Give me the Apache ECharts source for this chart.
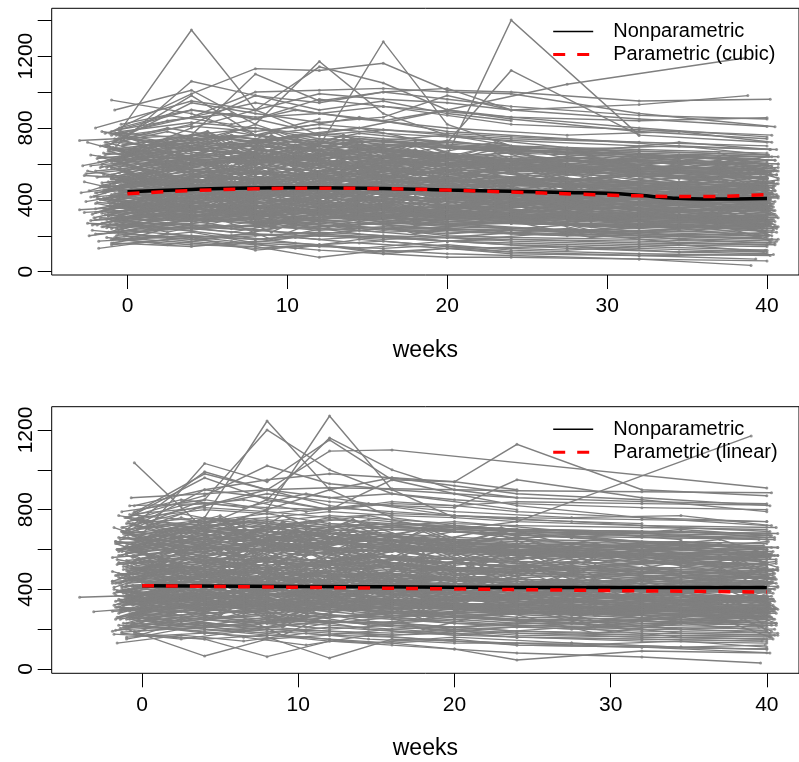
<!DOCTYPE html>
<html>
<head>
<meta charset="utf-8">
<title>Trajectories by week</title>
<script src="https://cdn.jsdelivr.net/npm/echarts@6/dist/echarts.min.js"></script>
<style>
  html, body { margin: 0; padding: 0; background: #fff; }
  #chart { width: 799px; height: 762px; }
</style>
</head>
<body>
<div id="chart"></div>
<script>
// Visit weeks for the middle columns of a trajectory row (three visit calendars).
const visitWeeks = [4, 8, 12, 16, 20, 24, 32];
const visitWeeksAlt = [2.5, 6.5, 10.5, 14.5, 20, 27.5, 34.5];
const visitWeeksLate = [5, 9, 13.5, 18, 23, 29, 37];

// Row layout: [baselineWeek, lastWeek, baseline, v1, v2, v3, v4, v5, v6, v7, last]
// Empty slots are visits that were not recorded.
const trajectoriesTop = [
  [-1.0, 40.0, 150, 190, 210, 180, 200, 170, 160, 140, 120],
  [-0.5, 40.2, 180, 220, 160, 140, 130, 150, 120, 100, 90],
  [-2.0, 39.6, 210, 240, 260, 230, 250, 240, 220, 200, 190],
  [-0.3, 40.5, 230, 200, 180, 210, 190, 170, 180, 160, 150],
  [-1.5, 40.0, 250, 300, 280, 260, 240, , 230, 210, 200],
  [-0.7, 39.0, 200, 180, 150, 120, 100, 80, 80, 70, 35],
  [0.0, 40.7, 260, 280, 320, 300, 290, 270, 280, 260, 250],
  [-1.2, 40.3, 220, 250, 230, 270, 240, 220, , 200, 180],
  [-2.5, 40.0, 270, 240, 210, 200, 180, 190, 170, 150, 140],
  [-0.8, 38.5, 190, 160, 130, 150, 170, 140, 110, , ],
  [-0.4, 40.0, 240, 290, 270, 300, 330, 310, 300, 280, 270],
  [-1.0, 40.6, 280, 260, 250, 240, 220, 230, 210, 190, 170],
  [-1.8, 39.8, 170, 200, 180, 200, 190, 170, 150, 130, 110],
  [-0.6, 40.0, 255, 230, 280, 250, 270, 260, 240, 230, 210],
  [0.0, 40.2, 210, 260, 230, 210, 240, 200, 190, 180, 160],
  [-1.3, 40.0, 245, 270, 300, 260, 230, 250, 240, 220, 230],
  [-0.9, 39.3, 160, 140, 170, 150, 110, 130, 100, 90, 70],
  [-0.2, 40.4, 275, 310, 290, 270, 300, 280, 270, 250, 240],
  [-2.2, 40.0, 230, 180, 200, 220, 200, 190, 180, 170, 150],
  [-1.1, 40.1, 265, 240, 260, 290, 260, 240, 230, 220, 200],
  [-1.0, 40.0, 180, 150, 140, 80, 120, 100, 90, 70, 60],
  [-0.6, 40.4, 210, 190, 120, 150, 100, 130, 110, 90, 95],
  [-1.0, 40.0, 300, 340, 320, 350, 330, 310, 300, 290, 280],
  [-0.5, 40.3, 320, 370, 350, 330, 360, 340, 320, 300, 290],
  [-1.5, 39.7, 340, 310, 290, 320, 300, 280, 270, 250, 240],
  [-0.3, 40.5, 360, 400, 430, 410, 390, 370, 380, 350, 340],
  [-2.0, 40.0, 290, 330, 370, 340, 320, 300, 310, 280, 270],
  [-0.8, 40.2, 380, 350, 330, 360, 340, 330, 310, 290, 270],
  [-1.2, 39.5, 310, 360, 400, 380, 350, 360, 340, 320, 300],
  [0.0, 40.6, 350, 330, 310, 290, 310, 300, 280, 260, 250],
  [-0.6, 40.0, 390, 440, 420, 450, 430, 400, 390, 370, 360],
  [-3.0, 40.0, 345, 380, 360, 340, 330, 350, 320, 300, 310],
  [-1.7, 40.4, 300, 280, 330, 310, 280, 260, 270, 260, 230],
  [-0.4, 39.0, 370, 410, 390, 360, 380, 370, 350, , ],
  [-1.0, 40.7, 330, 300, 350, 380, 360, 330, 320, 310, 300],
  [-0.9, 40.0, 395, 360, 380, 410, 390, 370, 360, 350, 330],
  [-2.3, 40.2, 285, 320, 300, 280, 300, 290, 270, 250, 260],
  [-0.2, 40.0, 355, 390, 420, 440, 410, 390, 380, 360, 350],
  [-1.4, 39.8, 315, 290, 270, 300, 320, 300, 290, 270, 250],
  [-0.7, 40.3, 375, 420, 460, 430, 400, 410, 390, 380, 370],
  [0.0, 40.0, 305, 350, 330, 360, 340, 320, 330, 310, 290],
  [-1.1, 40.5, 365, 340, 310, 330, 300, 320, 310, 290, 280],
  [-0.5, 40.0, 335, 380, 410, 390, 420, 400, 380, 370, 360],
  [-1.9, 39.4, 385, 350, 370, 340, 320, 310, 300, 280, 260],
  [-0.3, 40.1, 295, 330, 360, 330, 310, 340, 320, 300, 280],
  [-1.6, 40.0, 325, 370, 340, 320, 350, 330, 310, 300, 290],
  [-0.8, 40.6, 355, 320, 300, 340, 360, 340, 330, 320, 310],
  [-1.0, 40.0, 398, 440, 410, 380, 400, 390, 370, 350, 340],
  [-0.6, 40.2, 282, 310, 340, 320, 300, 290, 300, 280, 260],
  [-2.7, 40.0, 330, 360, 390, 370, 350, 360, 340, 330, 320],
  [-0.4, 40.4, 370, 330, 360, 390, 370, 350, 360, 340, 320],
  [-1.3, 39.9, 345, 400, 380, 360, 340, 330, 320, 310, 300],
  [-1.0, 40.0, 420, 460, 480, 455, 470, 440, 430, 410, 400],
  [-0.5, 40.3, 450, 500, 530, 510, 490, 470, 480, 460, 440],
  [-1.5, 39.8, 480, 440, 460, 490, 470, 450, 430, 420, 410],
  [-0.3, 40.5, 510, 560, 540, 580, 550, 530, 510, 490, 480],
  [-2.0, 40.0, 440, 480, 510, 490, 460, 470, 450, 430, 420],
  [0.0, 40.7, 530, 580, 560, 540, 570, 550, 520, 500, 490],
  [-0.8, 40.2, 460, 420, 440, 470, 450, 430, 420, 400, 380],
  [-1.2, 39.5, 500, 540, 580, 560, 530, 520, 500, 480, ],
  [-0.6, 40.0, 410, 450, 430, 460, 440, 420, 410, 390, 380],
  [-2.6, 40.0, 545, 600, 580, 560, 590, 570, 550, 530, 520],
  [-1.7, 40.4, 470, 510, 490, 470, 500, 480, 460, 450, 430],
  [-0.4, 39.0, 520, 480, 500, 530, 510, 490, 470, , ],
  [-1.0, 40.7, 430, 470, 500, 480, 450, 460, 440, 420, 410],
  [-0.9, 40.0, 490, 530, 510, 540, 520, 500, 490, 470, 460],
  [-2.3, 40.2, 415, 460, 440, 420, 450, 430, 410, 390, 380],
  [-0.2, 40.0, 540, 590, 620, 600, 580, 560, 570, 540, 520],
  [-1.4, 39.8, 455, 500, 470, 450, 480, 460, 440, 430, 410],
  [-0.7, 40.3, 505, 470, 490, 520, 500, 480, 460, 450, 440],
  [0.0, 40.0, 425, 480, 460, 500, 470, 450, 460, 440, 420],
  [-1.1, 40.5, 475, 520, 550, 520, 500, 510, 490, 470, 450],
  [-0.5, 40.0, 445, 410, 430, 460, 440, 420, 400, 390, 370],
  [-1.9, 39.4, 525, 570, 550, 530, 560, 540, 520, 500, 490],
  [-0.3, 40.1, 405, 440, 470, 450, 430, 440, 420, 400, 390],
  [-1.6, 40.0, 495, 540, 520, 500, 530, 510, 490, 480, 470],
  [-0.8, 40.6, 435, 480, 500, 470, 490, 460, 450, 430, 420],
  [-1.0, 40.0, 515, 470, 500, 530, 510, 490, 480, 460, 450],
  [-0.6, 40.2, 465, 510, 490, 470, 480, 460, 440, 420, 410],
  [-2.7, 40.0, 535, 500, 520, 550, 530, 510, 500, 480, 470],
  [-0.4, 40.4, 485, 530, 560, 540, 520, 500, 510, 490, 480],
  [-1.3, 39.9, 412, 450, 430, 410, 440, 420, 400, 380, 370],
  [-1.0, 40.0, 580, 630, 610, 650, 620, 600, 590, 570, 550],
  [-0.5, 40.3, 620, 680, 650, 700, 640, 610, 590, 560, 540],
  [-1.5, 39.8, 660, 620, 640, 680, 660, 630, 610, 590, 570],
  [-0.3, 40.5, 700, 760, 800, 740, 720, 700, 680, 650, 620],
  [-2.0, 40.0, 560, 610, 650, 620, 600, 620, 590, 570, 560],
  [0.0, 40.7, 740, 690, 720, 760, 730, 700, 680, 660, 640],
  [-0.8, 40.2, 600, 650, 630, 600, 620, 590, 570, 560, 540],
  [-1.2, 39.5, 680, 730, 760, 720, 700, 690, 670, 650, 630],
  [-0.6, 40.0, 570, 620, 600, 640, 610, 580, 560, 540, 520],
  [-3.0, 40.0, 730, 760, 720, 700, 730, 710, 690, 670, 650],
  [-1.7, 40.4, 640, 600, 620, 660, 640, 610, 600, 580, 560],
  [-0.4, 39.0, 780, 830, 800, 760, 790, 770, 750, 720, ],
  [-1.0, 40.7, 610, 660, 700, 670, 640, 650, 630, 610, 600],
  [-0.9, 40.0, 690, 640, 670, 700, 680, 660, 640, 620, 600],
  [-2.3, 40.2, 590, 640, 620, 590, 610, 600, 580, 560, 550],
  [-0.2, 40.0, 760, 810, 780, 820, 790, 760, 740, 720, 700],
  [-1.4, 39.8, 650, 700, 680, 650, 670, 640, 620, 610, 590],
  [-0.7, 40.3, 720, 680, 700, 740, 710, 690, 670, 650, 640],
  [0.0, 40.0, 555, 600, 640, 610, 590, 600, 580, 560, 540],
  [-1.1, 40.5, 670, 720, 700, 680, 710, 690, 660, 640, 620],
  [-0.5, 40.0, 750, 700, 730, 770, 740, 720, 700, 680, 660],
  [-1.9, 39.4, 630, 680, 660, 630, 650, 620, 600, 580, 570],
  [-0.3, 40.1, 705, 760, 740, 710, 730, 700, 690, 670, 650],
  [-1.6, 40.0, 585, 630, 610, 580, 600, 590, 570, 550, 530],
  [-0.8, 40.6, 775, 740, 760, 800, 770, 750, 730, 700, 680],
  [-0.6, 40.0, 790, 860, 940, 880, 840, 900, 860, 800, 750],
  [-1.4, 40.3, 770, 900, 850, 960, 920, 870, 820, 790, 760],
  [-0.2, , 740, 820, 980, 900, 950, 880, 840, , ],
  [-0.9, 40.0, 720, 940, 880, 830, 860, 980, 900, 850, 808],
  [-0.5, , 780, 1345, 900, 760, , , , , ],
  [-1.0, , 955, 880, 760, 720, 690, 650, 620, , ],
  [-0.8, , 900, 1010, 820, 700, 680, , , , ],
  [-0.7, 40.0, 700, 1060, 980, 940, 1000, 960, 920, 870, 850],
  [-1.0, 40.2, 780, 990, 1130, 1120, 1160, 1010, 1000, 950, 960],
  [-0.3, , 640, 760, 1100, 950, 1000, 1020, 900, , ],
  [0.0, , 560, 700, 820, 1170, 880, 760, 700, , ],
  [-1.0, 40.0, 620, 800, 900, 1140, 1050, 900, 850, 780, 740],
  [-0.5, 40.0, 480, 600, 640, 700, 1280, 820, 700, 650, 620],
  [-1.0, , 520, 580, 640, 620, 700, 650, 1400, 760, ],
  [-1.5, 40.0, 450, 520, 600, 650, 700, 720, 1120, 760, 720],
  [-1.0, 40.5, 760, 860, 1000, 1010, 1020, 1000, 990, 880, 807],
  [-2.0, 38.8, 800, 950, 900, 990, 960, 940, 900, 930, 980],
  [-0.4, 40.0, 820, 900, 860, 880, 920, 890, 860, 840, 857],
  [-1.2, , 700, 980, 760, 850, , , , , ]
];

// Top panel, subjects seen on the alternate calendar
const trajectoriesTopAlt = [
  [-1.2, 40.2, 310, 420, 350, 470, 380, 330, 410, 300, 360],
  [-0.4, 39.8, 560, 470, 620, 510, 580, 480, 520, 430, 470],
  [-2.1, 40.5, 420, 540, 460, 380, 500, 420, 360, 450, 390],
  [-0.9, 40.0, 680, 590, 720, 640, 560, 650, 580, 500, 560],
  [-1.6, 40.3, 250, 330, 280, 360, 290, 250, 310, 260, 220],
  [-0.3, 40.6, 470, 600, 520, 650, 560, 490, 540, 470, 430],
  [-1.0, 39.2, 380, 300, 410, 340, 280, 360, 300, 250, 290],
  [-2.8, 40.0, 590, 680, 560, 700, 620, 540, 600, 520, 480],
  [-0.6, 40.4, 330, 410, 500, 390, 450, 370, 330, 400, 340],
  [-1.4, 40.1, 720, 640, 760, 690, 610, 700, 620, 580, 640],
  [-0.8, 40.0, 280, 240, 310, 260, 330, 270, 220, 260, 200],
  [-0.2, 40.7, 510, 430, 560, 470, 520, 600, 490, 440, 510],
  [-1.9, 39.6, 440, 520, 410, 480, 550, 460, 400, 470, 420],
  [-0.5, 40.2, 640, 720, 650, 590, 680, 610, 560, 620, 550],
  [-1.1, 40.0, 360, 450, 390, 320, 400, 450, 370, 330, 380],
  [-2.4, 40.5, 200, 260, 220, 280, 230, 190, 240, 180, 160],
  [-0.7, 40.0, 530, 610, 700, 580, 640, 560, 500, 560, 520],
  [-1.5, 39.4, 410, 350, 440, 380, 460, 390, 340, 390, ],
  [-0.1, 40.3, 750, 690, 780, 720, 660, 730, 650, 610, 590],
  [-1.3, 40.0, 290, 380, 320, 400, 340, 300, 350, 290, 310],
  [-0.9, 40.6, 620, 540, 590, 660, 580, 520, 590, 530, 490],
  [-2.0, 40.0, 350, 420, 480, 410, 360, 430, 380, 340, 360],
  [-0.4, 39.9, 460, 390, 520, 450, 400, 470, 420, 370, 400],
  [-1.7, 40.2, 700, 780, 690, 750, 800, 700, 660, 720, 680],
  [-0.6, 40.0, 230, 300, 250, 210, 280, 230, 200, 240, 190],
  [-1.0, 40.4, 580, 500, 630, 560, 500, 570, 520, 460, 500],
  [-2.6, 40.1, 390, 470, 530, 450, 490, 410, 450, 380, 340],
  [-0.3, 40.0, 660, 740, 670, 610, 690, 630, 600, 650, 600],
  [-1.2, 39.7, 320, 270, 350, 300, 370, 320, 280, 310, 260],
  [-0.8, 40.5, 490, 570, 510, 600, 530, 470, 520, 480, 450],
  [-1.5, 40.0, 540, 460, 500, 440, 520, 560, 480, 430, 470],
  [-0.2, 40.2, 300, 360, 420, 350, 310, 370, 330, 290, 320],
  [-1.8, 40.7, 610, 690, 630, 700, 650, 590, 640, 600, 560],
  [-0.6, 40.0, 430, 360, 400, 470, 410, 360, 400, 350, 330],
  [-1.1, 39.5, 770, 700, 740, 680, 720, 760, 690, 640, ],
  [-2.2, 40.3, 260, 330, 290, 340, 300, 260, 300, 240, 270],
  [-0.5, 40.0, 550, 640, 580, 530, 600, 540, 500, 560, 510],
  [-1.4, 40.4, 400, 470, 430, 500, 440, 400, 460, 410, 380],
  [-0.9, 40.0, 690, 610, 660, 730, 650, 600, 640, 570, 590],
  [-0.1, 40.1, 340, 400, 360, 300, 360, 310, 350, 300, 280],
  [-1.6, 40.0, 480, 560, 620, 540, 590, 520, 480, 520, 470],
  [-0.7, 39.8, 600, 530, 570, 640, 580, 540, 590, 520, 500],
  [-2.9, 40.2, 440, 500, 460, 420, 470, 430, 390, 430, 400],
  [-0.4, 40.6, 270, 220, 290, 250, 230, 270, 230, 200, 220],
  [-1.3, 40.0, 720, 800, 740, 700, 770, 720, 680, 700, 650],
  [-0.8, 40.3, 370, 450, 410, 480, 420, 380, 420, 370, 350],
  [-1.0, 40.0, 520, 450, 480, 550, 490, 440, 480, 420, 440],
  [-2.3, 39.6, 650, 580, 620, 570, 640, 600, 550, 590, 540],
  [-0.5, 40.0, 310, 380, 330, 290, 350, 310, 280, 330, 300],
  [-1.7, 40.5, 580, 660, 720, 640, 680, 620, 580, 610, 570],
  [-0.2, 40.0, 180, 240, 200, 260, 210, 170, 220, 160, 150],
  [-1.1, 40.2, 460, 540, 480, 430, 500, 450, 420, 470, 430],
  [-0.6, 40.7, 740, 660, 700, 750, 690, 640, 680, 620, 600],
  [-1.9, 40.0, 410, 340, 380, 440, 390, 350, 390, 330, 360],
  [-0.3, 39.9, 630, 700, 660, 610, 680, 620, 590, 630, 580],
  [-1.4, 40.0, 350, 290, 340, 300, 270, 310, 270, 240, 260],
  [-0.9, 40.4, 500, 580, 540, 610, 550, 500, 550, 490, 470],
  [-2.5, 40.1, 560, 490, 530, 480, 550, 510, 470, 500, 460],
  [-0.7, 40.0, 240, 300, 340, 290, 260, 300, 260, 230, 250],
  [-1.2, 40.6, 670, 590, 640, 700, 630, 580, 620, 560, 540],
  [-0.4, 40.0, 420, 490, 450, 400, 460, 420, 380, 420, 390],
  [-1.6, 39.5, 780, 720, 760, 700, 740, 690, 660, 620, ],
  [-0.1, 40.2, 290, 350, 310, 370, 320, 280, 320, 270, 290],
  [-1.0, 40.0, 540, 620, 570, 520, 590, 540, 510, 550, 500],
  [-2.0, 40.4, 380, 310, 360, 410, 370, 320, 360, 310, 290],
  [-0.6, 40.0, 610, 680, 740, 660, 700, 640, 600, 640, 610],
  [-1.5, 40.1, 470, 400, 450, 510, 440, 400, 440, 390, 410],
  [-0.8, 40.7, 220, 270, 240, 300, 250, 210, 260, 200, 180],
  [-1.3, 40.0, 700, 630, 670, 620, 690, 650, 610, 650, 600],
  [-0.2, 39.8, 450, 530, 490, 440, 500, 460, 430, 470, 440],
  [-1.0, 40.0, 160, 210, 170, 130, 180, 140, 120, 150, 110],
  [-0.5, 40.3, 800, 870, 820, 900, 850, 800, 760, 780, 720],
  [-1.8, 40.0, 130, 180, 150, 190, 160, 130, 140, 110, 100],
  [-0.7, 40.2, 760, 840, 880, 800, 860, 780, 740, 700, 680],
  [-1.3, 39.9, 190, 150, 200, 160, 130, 170, 130, 110, 120],
  [-0.5, 38.6, 600, 660, 700, 760, 800, 900, 1043, , 1189]
];

// Top panel, subjects seen on the later calendar
const trajectoriesTopLate = [
  [-1.1, 40.1, 380, 560, 300, 520, 340, 600, 380, 480, 330],
  [-0.6, 40.4, 620, 400, 650, 420, 580, 360, 540, 400, 500],
  [-1.9, 39.7, 260, 420, 250, 450, 300, 400, 280, 360, 240],
  [-0.2, 40.0, 520, 340, 560, 380, 600, 420, 460, 340, 420],
  [-1.4, 40.6, 700, 520, 760, 560, 680, 500, 620, 520, 560],
  [-0.8, 40.2, 300, 480, 340, 560, 380, 460, 300, 420, 320],
  [-2.4, 40.0, 450, 650, 420, 600, 480, 660, 440, 520, 460],
  [-0.5, 39.5, 580, 380, 520, 340, 560, 400, 480, 360, ],
  [-1.2, 40.3, 220, 360, 250, 380, 260, 340, 220, 300, 200],
  [-0.3, 40.7, 660, 760, 560, 740, 600, 700, 540, 620, 520],
  [-1.7, 40.0, 400, 280, 460, 300, 420, 280, 380, 260, 300],
  [-0.9, 40.1, 540, 700, 480, 660, 500, 620, 460, 560, 430],
  [-2.0, 40.4, 330, 500, 360, 520, 340, 480, 320, 420, 360],
  [-0.4, 40.0, 760, 580, 700, 540, 720, 560, 640, 520, 600],
  [-1.3, 39.8, 480, 320, 520, 340, 500, 360, 420, 320, 380],
  [-0.7, 40.5, 280, 440, 300, 480, 320, 420, 280, 380, 260],
  [-1.6, 40.0, 600, 780, 560, 720, 580, 680, 520, 600, 500],
  [-0.1, 40.2, 360, 520, 400, 560, 380, 500, 360, 440, 340],
  [-2.7, 40.0, 500, 340, 540, 360, 520, 380, 460, 340, 400],
  [-0.6, 40.6, 680, 500, 720, 540, 660, 480, 600, 500, 540],
  [-1.0, 39.9, 240, 380, 220, 400, 260, 360, 230, 320, 210],
  [-1.5, 40.3, 440, 620, 460, 640, 440, 580, 420, 500, 440],
  [-0.3, 40.0, 560, 400, 600, 420, 580, 400, 520, 420, 460],
  [-2.2, 40.1, 320, 480, 300, 460, 340, 440, 300, 380, 280],
  [-0.8, 40.7, 740, 600, 780, 620, 720, 580, 660, 560, 580],
  [-1.1, 40.0, 420, 280, 480, 300, 440, 320, 400, 280, 340],
  [-0.5, 40.4, 500, 680, 520, 700, 540, 640, 480, 580, 460],
  [-1.8, 39.6, 640, 460, 680, 480, 620, 460, 560, 440, 500],
  [-0.2, 40.2, 200, 320, 180, 340, 210, 300, 190, 260, 170],
  [-1.3, 40.0, 580, 740, 600, 760, 580, 700, 560, 640, 540],
  [-0.9, 40.5, 350, 520, 330, 540, 360, 500, 330, 450, 320],
  [-2.5, 40.0, 720, 540, 740, 560, 700, 540, 640, 520, 580],
  [-0.4, 40.1, 460, 300, 500, 320, 480, 340, 420, 300, 360],
  [-1.6, 40.6, 270, 420, 260, 440, 280, 400, 250, 340, 240],
  [-0.7, 40.0, 620, 460, 660, 480, 640, 460, 580, 460, 520],
  [-1.2, 39.8, 390, 560, 380, 600, 400, 540, 370, 480, 360],
  [-0.1, 40.3, 680, 780, 620, 760, 640, 720, 600, 660, 580],
  [-2.1, 40.0, 300, 440, 280, 460, 310, 420, 290, 380, 270],
  [-0.6, 40.7, 520, 360, 560, 380, 540, 380, 480, 360, 420],
  [-1.4, 40.2, 440, 600, 420, 620, 450, 580, 420, 520, 400]
];

const trajectoriesBottom = [
  [-4.0, 40.0, 360, 380, 350, 400, 370, 360, 340, 330, 320],
  [-3.1, 39.5, 288, 330, 350, 320, 300, 310, 290, 280, 270],
  [-0.5, 40.0, 1035, 700, 660, 640, 620, 600, 580, 560, 540],
  [-1.0, 40.0, 620, 760, 1245, 900, 760, 720, 700, 680, 650],
  [-0.8, , 700, 850, 1200, 1000, 880, , 800, , ],
  [-1.0, 40.0, 680, 820, 900, 1094, 1100, , , , 909],
  [-0.6, , 560, 700, 800, 1270, 900, 760, , , ],
  [-1.4, , 600, 720, 850, 1160, 1000, 900, 860, , ],
  [-0.3, 40.0, 650, 1032, 940, 1150, 950, 880, 820, 760, 720],
  [-1.0, , 700, 990, 900, 820, 780, , , , ],
  [-0.9, 40.0, 760, 960, 850, 800, 840, 820, 790, 760, 740],
  [-0.5, 40.0, 820, 900, 950, 980, 960, 940, 1128, 900, 870],
  [-1.5, 39.0, 600, 650, 700, 760, 720, 700, 740, , 1170],
  [-0.7, 40.3, 860, 880, 900, 910, 905, 900, 895, 890, 885],
  [-0.8, 40.0, 820, 830, 810, 800, 830, 820, 840, 830, 823],
  [-0.6, 40.0, 780, 980, 900, 860, 880, 850, 830, 810, 800],
  [-1.0, 40.0, 760, 870, 1020, 930, 900, 880, 860, 840, 830],
  [-0.4, , 720, 900, 860, 800, 950, 940, 900, , ],
  [-1.3, 40.0, 790, 850, 800, 900, 960, 920, 880, 850, 790],
  [-0.9, 40.2, 740, 820, 880, 840, 820, 810, 950, 860, 820],
  [-1.0, 40.0, 200, 65, 150, 170, 160, 140, 130, 110, 100],
  [-0.5, 39.6, 180, 150, 62, 140, 120, 100, 80, 60, 30],
  [-1.2, 40.0, 230, 180, 160, 55, 150, 140, 120, 110, 82],
  [-0.8, 40.2, 250, 200, 170, 150, 130, 100, 45, 90, 80],
  [-1.0, 40.0, 160, 180, 200, 190, 170, 180, 160, 150, 140],
  [-0.5, 40.3, 190, 210, 230, 200, 220, 190, 180, 170, 160],
  [-1.5, 39.7, 220, 200, 180, 210, 190, 170, 160, 150, 140],
  [-0.3, 40.5, 240, 270, 250, 230, 260, 240, 220, 210, 200],
  [-1.8, 40.0, 175, 150, 170, 140, 130, 150, 120, 110, 100],
  [-0.8, 40.2, 260, 230, 210, 240, 220, 200, 210, 190, 180],
  [-1.2, 39.5, 210, 250, 270, 240, 230, 250, 230, 220, 210],
  [0.0, 40.6, 270, 250, 230, 260, 280, 260, 250, 240, 230],
  [-0.6, 40.0, 230, 210, 190, 170, 200, 180, 160, 140, 130],
  [-1.0, 40.0, 250, 280, 300, 270, 260, 280, 260, 250, 240],
  [-1.7, 40.4, 195, 220, 200, 180, 170, 190, 170, 160, 150],
  [-0.4, 39.0, 280, 260, 240, 270, 250, 230, 220, 200, ],
  [-1.0, 40.7, 215, 190, 210, 240, 220, 210, 190, 180, 170],
  [-0.9, 40.0, 265, 300, 280, 260, 290, 270, 250, 240, 220],
  [-1.3, 40.2, 185, 210, 240, 220, 200, 210, 190, 170, 165],
  [-0.2, 40.0, 245, 220, 260, 240, 230, 210, 220, 200, 190],
  [-1.4, 39.8, 205, 230, 210, 190, 180, 200, 180, 160, 150],
  [-0.7, 40.3, 275, 250, 280, 300, 270, 260, 240, 230, 220],
  [-1.0, 40.0, 300, 320, 340, 310, 330, 300, 290, 280, 270],
  [-0.5, 40.3, 330, 360, 340, 370, 350, 330, 320, 310, 300],
  [-1.5, 39.7, 350, 320, 300, 330, 310, 300, 290, 280, 260],
  [-0.3, 40.5, 370, 400, 380, 360, 390, 370, 360, 350, 340],
  [-1.9, 40.0, 290, 310, 330, 350, 320, 300, 310, 300, 290],
  [-0.8, 40.2, 390, 360, 370, 400, 380, 360, 350, 340, 330],
  [-1.2, 39.5, 320, 350, 380, 360, 340, 350, 330, 320, 310],
  [0.0, 40.6, 360, 340, 320, 300, 320, 310, 300, 290, 280],
  [-0.6, 40.0, 380, 420, 400, 430, 410, 390, 380, 370, 360],
  [-1.0, 40.0, 340, 370, 350, 330, 340, 360, 340, 330, 320],
  [-1.7, 40.4, 310, 290, 320, 300, 290, 270, 280, 270, 250],
  [-0.4, 39.0, 395, 420, 390, 370, 400, 380, 370, , ],
  [-1.0, 40.7, 325, 300, 340, 360, 340, 320, 310, 300, 300],
  [-0.9, 40.0, 385, 350, 370, 390, 380, 360, 350, 340, 335],
  [-1.3, 40.2, 295, 330, 310, 290, 310, 300, 280, 270, 265],
  [-0.2, 40.0, 355, 380, 400, 420, 400, 380, 370, 360, 350],
  [-1.4, 39.8, 305, 280, 290, 310, 330, 310, 300, 290, 280],
  [-0.7, 40.3, 375, 410, 440, 410, 390, 400, 380, 370, 365],
  [0.0, 40.0, 315, 340, 320, 350, 330, 310, 320, 300, 290],
  [-1.1, 40.5, 365, 330, 310, 340, 320, 330, 310, 300, 290],
  [-0.5, 40.0, 345, 370, 400, 380, 410, 390, 370, 360, 355],
  [-1.6, 39.4, 390, 360, 380, 350, 330, 320, 310, 300, 290],
  [-0.3, 40.1, 285, 320, 350, 320, 300, 330, 310, 300, 285],
  [-1.0, 40.0, 335, 360, 330, 310, 340, 320, 300, 290, 280],
  [-0.8, 40.6, 350, 310, 300, 330, 350, 330, 320, 310, 305],
  [-1.2, 40.0, 398, 430, 400, 370, 390, 380, 360, 350, 345],
  [-0.6, 40.2, 282, 300, 330, 310, 290, 280, 290, 270, 260],
  [-1.5, 40.0, 325, 350, 380, 360, 340, 350, 330, 320, 315],
  [-0.4, 40.4, 372, 340, 360, 380, 360, 340, 350, 330, 320],
  [-1.3, 39.9, 340, 390, 370, 350, 330, 320, 310, 300, 295],
  [-1.0, 40.0, 420, 440, 460, 430, 450, 420, 410, 400, 395],
  [-0.5, 40.3, 450, 480, 510, 490, 470, 460, 470, 450, 440],
  [-1.5, 39.8, 480, 450, 460, 480, 460, 440, 430, 420, 410],
  [-0.3, 40.5, 510, 540, 520, 560, 530, 510, 500, 490, 480],
  [-1.9, 40.0, 440, 470, 500, 480, 450, 460, 440, 430, 425],
  [0.0, 40.7, 530, 560, 540, 520, 550, 530, 510, 500, 495],
  [-0.8, 40.2, 460, 430, 450, 470, 450, 430, 420, 410, 400],
  [-1.2, 39.5, 500, 530, 560, 540, 520, 510, 500, 490, ],
  [-0.6, 40.0, 410, 440, 420, 450, 430, 410, 400, 390, 385],
  [-1.0, 40.0, 545, 580, 560, 540, 570, 550, 540, 530, 525],
  [-1.7, 40.4, 470, 500, 480, 460, 490, 470, 450, 440, 435],
  [-0.4, 39.0, 520, 490, 510, 530, 510, 490, 480, , ],
  [-1.0, 40.7, 430, 460, 490, 470, 440, 450, 430, 420, 415],
  [-0.9, 40.0, 490, 520, 500, 530, 510, 490, 480, 470, 465],
  [-1.3, 40.2, 415, 450, 430, 410, 440, 420, 410, 400, 390],
  [-0.2, 40.0, 540, 570, 600, 580, 560, 550, 560, 540, 530],
  [-1.4, 39.8, 455, 490, 460, 440, 470, 450, 440, 430, 420],
  [-0.7, 40.3, 505, 470, 490, 510, 500, 480, 470, 460, 455],
  [0.0, 40.0, 425, 470, 450, 490, 460, 440, 450, 440, 430],
  [-1.1, 40.5, 475, 510, 540, 510, 490, 500, 480, 470, 460],
  [-0.5, 40.0, 445, 420, 430, 450, 440, 420, 410, 400, 390],
  [-1.6, 39.4, 525, 560, 540, 520, 550, 530, 520, 510, 505],
  [-0.3, 40.1, 405, 430, 460, 440, 420, 430, 420, 410, 400],
  [-1.0, 40.0, 495, 530, 510, 490, 520, 500, 490, 480, 475],
  [-0.8, 40.6, 435, 470, 490, 460, 480, 460, 450, 440, 430],
  [-1.2, 40.0, 515, 480, 500, 520, 510, 490, 480, 470, 465],
  [-0.6, 40.2, 465, 500, 480, 470, 480, 460, 450, 440, 430],
  [-1.5, 40.0, 535, 510, 520, 540, 530, 510, 500, 490, 485],
  [-0.4, 40.4, 485, 520, 550, 530, 510, 500, 510, 500, 490],
  [-1.3, 39.9, 412, 440, 430, 410, 430, 420, 400, 390, 385],
  [-1.0, 40.0, 580, 620, 600, 640, 610, 590, 580, 570, 560],
  [-0.5, 40.3, 620, 660, 640, 680, 640, 620, 600, 590, 580],
  [-1.5, 39.8, 660, 630, 650, 680, 660, 640, 620, 610, 600],
  [-0.3, 40.5, 700, 740, 780, 730, 710, 700, 690, 670, 660],
  [-1.9, 40.0, 560, 600, 640, 610, 590, 610, 590, 580, 570],
  [0.0, 40.7, 740, 700, 720, 750, 730, 710, 700, 690, 680],
  [-0.8, 40.2, 600, 640, 620, 600, 620, 600, 580, 570, 560],
  [-1.2, 39.5, 680, 720, 750, 720, 700, 690, 680, 670, 650],
  [-0.6, 40.0, 570, 610, 590, 630, 600, 580, 570, 560, 550],
  [-1.0, 40.0, 730, 760, 730, 710, 730, 720, 700, 690, 680],
  [-1.7, 40.4, 640, 610, 630, 660, 640, 620, 610, 600, 590],
  [-0.4, 39.0, 780, 810, 790, 760, 780, 770, 750, 730, ],
  [-1.0, 40.7, 610, 650, 690, 660, 640, 650, 630, 620, 610],
  [-0.9, 40.0, 690, 650, 670, 700, 680, 660, 650, 640, 630],
  [-1.3, 40.2, 590, 630, 610, 590, 610, 600, 590, 580, 575],
  [-0.2, 40.0, 760, 800, 780, 810, 790, 770, 760, 750, 740],
  [-1.4, 39.8, 650, 690, 670, 650, 670, 650, 640, 630, 620],
  [-0.7, 40.3, 720, 690, 700, 730, 710, 700, 690, 680, 670],
  [0.0, 40.0, 555, 590, 630, 600, 590, 600, 590, 580, 570],
  [-1.1, 40.5, 670, 710, 690, 680, 700, 690, 670, 660, 650],
  [-0.5, 40.0, 750, 720, 740, 770, 750, 730, 720, 710, 700],
  [-1.6, 39.4, 630, 670, 650, 630, 650, 630, 620, 610, 600],
  [-0.3, 40.1, 705, 750, 730, 710, 730, 710, 700, 690, 680],
  [-1.0, 40.0, 585, 620, 600, 580, 600, 590, 580, 570, 560],
  [-0.8, 40.6, 775, 740, 760, 790, 770, 760, 740, 720, 710]
];

// Bottom panel, subjects seen on the alternate calendar
const trajectoriesBottomAlt = [
  [-1.1, 40.2, 330, 410, 360, 450, 390, 340, 400, 320, 350],
  [-0.5, 39.8, 540, 460, 600, 500, 560, 470, 510, 440, 460],
  [-1.8, 40.5, 410, 520, 450, 390, 480, 410, 370, 440, 400],
  [-0.9, 40.0, 660, 580, 700, 630, 570, 640, 590, 520, 570],
  [-1.4, 40.3, 260, 320, 280, 350, 290, 260, 300, 250, 230],
  [-0.3, 40.6, 480, 590, 520, 620, 550, 490, 530, 480, 450],
  [-1.0, 39.2, 370, 310, 400, 340, 290, 350, 310, 270, 300],
  [-1.6, 40.0, 600, 670, 570, 680, 610, 550, 600, 540, 510],
  [-0.6, 40.4, 320, 400, 470, 380, 430, 370, 340, 390, 350],
  [-1.2, 40.1, 710, 640, 740, 680, 620, 690, 630, 600, 640],
  [-0.8, 40.0, 270, 240, 300, 260, 320, 270, 230, 260, 210],
  [-0.2, 40.7, 500, 430, 540, 470, 510, 580, 490, 450, 500],
  [-1.7, 39.6, 430, 500, 410, 470, 530, 450, 410, 460, 420],
  [-0.5, 40.2, 630, 700, 640, 590, 660, 600, 570, 610, 560],
  [-1.1, 40.0, 350, 430, 380, 320, 390, 430, 370, 340, 370],
  [-1.9, 40.5, 190, 250, 210, 270, 220, 190, 230, 180, 170],
  [-0.7, 40.0, 520, 600, 670, 570, 620, 550, 510, 550, 520],
  [-1.3, 39.4, 400, 350, 430, 380, 440, 390, 350, 380, ],
  [-0.1, 40.3, 740, 680, 760, 710, 660, 720, 660, 620, 610],
  [-1.5, 40.0, 280, 360, 310, 380, 330, 300, 340, 290, 300],
  [-0.9, 40.6, 600, 530, 570, 640, 570, 520, 580, 530, 500],
  [-1.7, 40.0, 340, 410, 460, 400, 360, 420, 380, 340, 360],
  [-0.4, 39.9, 450, 390, 500, 440, 400, 460, 420, 380, 400],
  [-1.2, 40.2, 690, 760, 680, 730, 770, 690, 660, 700, 670],
  [-0.6, 40.0, 220, 290, 240, 210, 270, 230, 200, 230, 190],
  [-1.0, 40.4, 570, 500, 610, 550, 500, 560, 520, 470, 500],
  [-1.8, 40.1, 380, 450, 510, 440, 470, 400, 440, 380, 350],
  [-0.3, 40.0, 650, 720, 660, 610, 680, 620, 600, 640, 600],
  [-1.2, 39.7, 310, 270, 340, 300, 360, 310, 280, 300, 260],
  [-0.8, 40.5, 480, 560, 500, 580, 520, 470, 510, 470, 450],
  [-1.5, 40.0, 530, 460, 490, 440, 510, 540, 480, 440, 470],
  [-0.2, 40.2, 290, 350, 400, 340, 300, 360, 320, 290, 310],
  [-1.6, 40.7, 600, 670, 620, 680, 640, 590, 630, 600, 570],
  [-0.6, 40.0, 420, 360, 390, 450, 400, 360, 390, 350, 340],
  [-1.1, 39.5, 760, 700, 730, 680, 710, 740, 690, 650, ],
  [-1.4, 40.3, 250, 320, 280, 330, 290, 260, 290, 240, 260],
  [-0.5, 40.0, 540, 620, 570, 520, 580, 530, 500, 550, 510],
  [-1.3, 40.4, 390, 460, 420, 480, 430, 400, 450, 400, 380],
  [-0.9, 40.0, 680, 610, 650, 710, 640, 600, 630, 580, 590],
  [-0.1, 40.1, 330, 390, 350, 300, 350, 310, 340, 300, 290],
  [-1.6, 40.0, 470, 540, 600, 530, 570, 510, 480, 510, 470],
  [-0.7, 39.8, 590, 530, 560, 620, 570, 530, 570, 520, 500],
  [-1.9, 40.2, 430, 490, 450, 410, 460, 420, 390, 420, 400],
  [-0.4, 40.6, 260, 220, 280, 240, 230, 260, 230, 200, 220],
  [-1.3, 40.0, 710, 780, 720, 690, 750, 710, 680, 690, 660],
  [-0.8, 40.3, 360, 440, 400, 460, 410, 380, 410, 370, 350],
  [-1.0, 40.0, 510, 450, 470, 530, 480, 440, 470, 420, 440],
  [-1.7, 39.6, 640, 580, 610, 570, 630, 590, 560, 580, 540],
  [-0.5, 40.0, 300, 370, 320, 290, 340, 310, 280, 320, 300],
  [-1.5, 40.5, 570, 640, 700, 630, 660, 610, 580, 600, 570],
  [-0.2, 40.0, 170, 230, 190, 250, 200, 170, 210, 160, 150],
  [-1.1, 40.2, 450, 520, 470, 430, 490, 440, 420, 460, 430],
  [-0.6, 40.7, 730, 660, 690, 740, 680, 640, 670, 620, 610],
  [-1.8, 40.0, 400, 340, 370, 430, 380, 350, 380, 330, 360],
  [-0.3, 39.9, 620, 690, 650, 600, 660, 610, 590, 620, 580],
  [-1.4, 40.0, 340, 290, 330, 300, 270, 300, 270, 250, 260],
  [-0.9, 40.4, 490, 560, 530, 590, 540, 500, 540, 490, 470],
  [-1.6, 40.1, 550, 490, 520, 480, 540, 500, 470, 490, 460],
  [-0.7, 40.0, 230, 290, 330, 280, 260, 290, 260, 230, 250],
  [-1.2, 40.6, 660, 590, 630, 690, 620, 580, 610, 560, 550],
  [-0.4, 40.0, 410, 480, 440, 400, 450, 410, 380, 410, 390],
  [-1.5, 39.5, 770, 720, 750, 700, 730, 690, 660, 630, ],
  [-0.1, 40.2, 280, 340, 300, 360, 310, 280, 310, 270, 280],
  [-1.0, 40.0, 530, 600, 560, 510, 570, 530, 500, 540, 500],
  [-1.7, 40.4, 370, 310, 350, 400, 360, 320, 350, 310, 290],
  [-0.6, 40.0, 600, 660, 720, 650, 680, 630, 600, 630, 600],
  [-1.5, 40.1, 460, 400, 440, 500, 440, 400, 430, 390, 400],
  [-0.8, 40.7, 210, 260, 230, 290, 240, 210, 250, 200, 180],
  [-1.3, 40.0, 690, 630, 660, 610, 680, 640, 610, 640, 600],
  [-0.2, 39.8, 440, 510, 480, 430, 490, 450, 430, 460, 440],
  [-1.0, 40.0, 150, 200, 160, 120, 170, 140, 120, 140, 110],
  [-0.5, 40.3, 790, 850, 810, 880, 830, 790, 760, 770, 720],
  [-1.6, 40.0, 130, 170, 140, 180, 150, 130, 130, 110, 100],
  [-0.7, 40.2, 750, 820, 850, 790, 830, 770, 740, 710, 690],
  [-1.3, 39.9, 180, 150, 190, 160, 130, 160, 130, 110, 120]
];

// Bottom panel, subjects seen on the later calendar
const trajectoriesBottomLate = [
  [-1.0, 40.1, 370, 540, 300, 500, 330, 580, 370, 460, 320],
  [-0.5, 40.4, 600, 400, 630, 410, 560, 360, 520, 390, 480],
  [-1.7, 39.7, 250, 410, 240, 430, 290, 390, 270, 350, 230],
  [-0.2, 40.0, 510, 330, 540, 370, 580, 410, 450, 330, 410],
  [-1.3, 40.6, 690, 510, 740, 550, 660, 490, 600, 510, 540],
  [-0.8, 40.2, 290, 470, 330, 540, 370, 450, 290, 410, 310],
  [-1.9, 40.0, 440, 630, 410, 590, 470, 640, 430, 500, 450],
  [-0.5, 39.5, 570, 370, 510, 330, 550, 390, 470, 350, ],
  [-1.1, 40.3, 210, 350, 240, 370, 250, 330, 210, 290, 190],
  [-0.3, 40.7, 650, 750, 550, 720, 590, 690, 530, 600, 510],
  [-1.6, 40.0, 390, 270, 450, 290, 410, 270, 370, 250, 290],
  [-0.9, 40.1, 530, 690, 470, 640, 490, 600, 450, 540, 420],
  [-1.8, 40.4, 320, 490, 350, 510, 330, 470, 310, 410, 350],
  [-0.4, 40.0, 750, 570, 690, 530, 700, 550, 630, 510, 590],
  [-1.3, 39.8, 470, 310, 510, 330, 490, 350, 410, 310, 370],
  [-0.7, 40.5, 270, 430, 290, 470, 310, 410, 270, 370, 250],
  [-1.5, 40.0, 590, 760, 550, 700, 570, 670, 510, 590, 490],
  [-0.1, 40.2, 350, 510, 390, 550, 370, 490, 350, 430, 330],
  [-1.9, 40.0, 490, 330, 530, 350, 510, 370, 450, 330, 390],
  [-0.6, 40.6, 670, 490, 710, 530, 650, 470, 590, 490, 530],
  [-1.0, 39.9, 230, 370, 210, 390, 250, 350, 220, 310, 200],
  [-1.5, 40.3, 430, 610, 450, 630, 430, 570, 410, 490, 430],
  [-0.3, 40.0, 550, 390, 590, 410, 570, 390, 510, 410, 450],
  [-1.6, 40.1, 310, 470, 290, 450, 330, 430, 290, 370, 270],
  [-0.8, 40.7, 730, 590, 770, 610, 710, 570, 650, 550, 570],
  [-1.1, 40.0, 410, 270, 470, 290, 430, 310, 390, 270, 330],
  [-0.5, 40.4, 490, 670, 510, 690, 530, 630, 470, 570, 450],
  [-1.7, 39.6, 630, 450, 670, 470, 610, 450, 550, 430, 490],
  [-0.2, 40.2, 190, 310, 170, 330, 200, 290, 180, 250, 160],
  [-1.3, 40.0, 570, 730, 590, 750, 570, 690, 550, 630, 530],
  [-0.9, 40.5, 340, 510, 320, 530, 350, 490, 320, 440, 310],
  [-1.8, 40.0, 710, 530, 730, 550, 690, 530, 630, 510, 570],
  [-0.4, 40.1, 450, 290, 490, 310, 470, 330, 410, 290, 350],
  [-1.6, 40.6, 260, 410, 250, 430, 270, 390, 240, 330, 230],
  [-0.7, 40.0, 610, 450, 650, 470, 630, 450, 570, 450, 510],
  [-1.2, 39.8, 380, 550, 370, 590, 390, 530, 360, 470, 350],
  [-0.1, 40.3, 670, 770, 610, 750, 630, 710, 590, 650, 570],
  [-1.4, 40.0, 290, 430, 270, 450, 300, 410, 280, 370, 260],
  [-0.6, 40.7, 510, 350, 550, 370, 530, 370, 470, 350, 410],
  [-1.4, 40.2, 430, 590, 410, 610, 440, 570, 410, 510, 390]
];

// Fitted mean curves
const smoothWeeksTop = [0, 4, 8, 12, 16, 20, 24, 28, 30, 32, 34, 36, 38, 40];
const nonparamTop = [445, 458, 466, 467, 463, 455, 447, 440, 436, 425, 410, 404, 405, 408];
const cubicWeeks = [0, 4, 8, 12, 16, 20, 24, 28, 32, 36, 40];
const cubicTop = [434, 451, 461, 465, 462, 454, 443, 432, 422, 418, 430];

const smoothWeeksBottom = [0, 10, 20, 30, 40];
const nonparamBottom = [418, 414, 411, 409, 409];
const linearWeeks = [0, 40];
const linearBottom = [418, 386];

const legendTop = ['Nonparametric', 'Parametric (cubic)'];
const legendBottom = ['Nonparametric', 'Parametric (linear)'];
const xTickValues = [0, 10, 20, 30, 40];
const yTickValues = [0, 200, 400, 600, 800, 1000, 1200, 1400];
const yLabelValues = [0, 400, 800, 1200];
const xTitle = 'weeks';

const FONT = '"Liberation Sans", Arial, Helvetica, sans-serif';
const GRAY = '#7f7f7f';

function toPath(row, weeks) {
  const pts = [];
  if (row[2] != null) pts.push([row[0], row[2]]);
  for (let i = 0; i < weeks.length; i++) {
    const v = row[3 + i];
    if (v != null) pts.push([weeks[i], v]);
  }
  if (row[10] != null) pts.push([row[1], row[10]]);
  return pts;
}

function pairs(xs, ys) { return xs.map((x, i) => [x, ys[i]]); }

// groups: list of [rows, calendar]
function panelSeries(idx, groups, npX, npY, parX, parY, parName) {
  let paths = [];
  groups.forEach(([rows, weeks]) => {
    paths = paths.concat(rows.map(r => toPath(r, weeks)));
  });
  paths = paths.filter(p => p.length > 1);
  const pts = [];
  paths.forEach(p => p.forEach(q => pts.push(q)));
  return [
    {
      type: 'lines', coordinateSystem: 'cartesian2d', polyline: true,
      xAxisIndex: idx, yAxisIndex: idx, silent: true, z: 1,
      lineStyle: { color: GRAY, width: 1.4, opacity: 1 },
      data: paths.map(p => ({ coords: p }))
    },
    {
      type: 'scatter', xAxisIndex: idx, yAxisIndex: idx, silent: true, z: 1,
      symbol: 'circle', symbolSize: 3,
      itemStyle: { color: GRAY },
      data: pts
    },
    {
      type: 'line', name: 'Nonparametric', xAxisIndex: idx, yAxisIndex: idx,
      smooth: true, symbol: 'none', z: 3,
      itemStyle: { color: '#000' },
      lineStyle: { color: '#000', width: 3.5 },
      data: pairs(npX, npY)
    },
    {
      type: 'line', name: parName, xAxisIndex: idx, yAxisIndex: idx,
      smooth: true, symbol: 'none', z: 4,
      itemStyle: { color: '#ff0000' },
      lineStyle: { color: '#ff0000', width: 3.5, type: [12, 12] },
      data: pairs(parX, parY)
    }
  ];
}

function xAxisCfg(idx, min, max) {
  return {
    type: 'value', gridIndex: idx, min: min, max: max,
    axisLine: { show: false, onZero: false },
    splitLine: { show: false },
    axisTick: { show: true, length: 14, customValues: xTickValues, lineStyle: { color: '#000', width: 1 } },
    axisLabel: { show: true, customValues: xTickValues, margin: 21, fontSize: 21, color: '#000', fontFamily: FONT,
                 formatter: v => String(v) },
    name: xTitle, nameLocation: 'middle', nameGap: 64,
    nameTextStyle: { fontSize: 23, color: '#000', fontFamily: FONT }
  };
}

function yAxisCfg(idx, min, max) {
  return {
    type: 'value', gridIndex: idx, min: min, max: max,
    axisLine: { show: false, onZero: false },
    splitLine: { show: false },
    axisTick: { show: true, length: 14, customValues: yTickValues.filter(v => v <= max), lineStyle: { color: '#000', width: 1 } },
    axisLabel: { show: true, customValues: yLabelValues, rotate: 90, margin: 15, fontSize: 21, color: '#000', fontFamily: FONT,
                 formatter: v => String(v) }
  };
}

function legendCfg(top, names) {
  return {
    orient: 'vertical', left: 551.7, top: top, padding: 0,
    itemWidth: 40, itemHeight: 12, itemGap: 3, selectedMode: false,
    textStyle: { fontSize: 20, color: '#000', fontFamily: FONT, padding: [0, 0, 0, 15] },
    data: [
      { name: names[0], lineStyle: { width: 1.5 }, itemStyle: { opacity: 0 } },
      { name: names[1], lineStyle: { width: 3 }, itemStyle: { opacity: 0 } }
    ]
  };
}

const chart = echarts.init(document.getElementById('chart'), null, { renderer: 'canvas' });
chart.setOption({
  animation: false,
  backgroundColor: '#fff',
  grid: [
    { left: 51.7, top: 8.3, width: 748.8, height: 266.7, show: true, borderColor: '#000', borderWidth: 1, backgroundColor: 'transparent', containLabel: false },
    { left: 51.7, top: 406.7, width: 748.8, height: 266.6, show: true, borderColor: '#000', borderWidth: 1, backgroundColor: 'transparent', containLabel: false }
  ],
  xAxis: [xAxisCfg(0, -4.74, 42.0), xAxisCfg(1, -5.79, 42.06)],
  yAxis: [yAxisCfg(0, -18.4, 1465.8), yAxisCfg(1, -21.6, 1316.8)],
  legend: [legendCfg(21.5, legendTop), legendCfg(419.3, legendBottom)],
  series: [
    ...panelSeries(0, [[trajectoriesTop, visitWeeks], [trajectoriesTopAlt, visitWeeksAlt], [trajectoriesTopLate, visitWeeksLate]],
                   smoothWeeksTop, nonparamTop, cubicWeeks, cubicTop, legendTop[1]),
    ...panelSeries(1, [[trajectoriesBottom, visitWeeks], [trajectoriesBottomAlt, visitWeeksAlt], [trajectoriesBottomLate, visitWeeksLate]],
                   smoothWeeksBottom, nonparamBottom, linearWeeks, linearBottom, legendBottom[1])
  ]
});
</script>
</body>
</html>
